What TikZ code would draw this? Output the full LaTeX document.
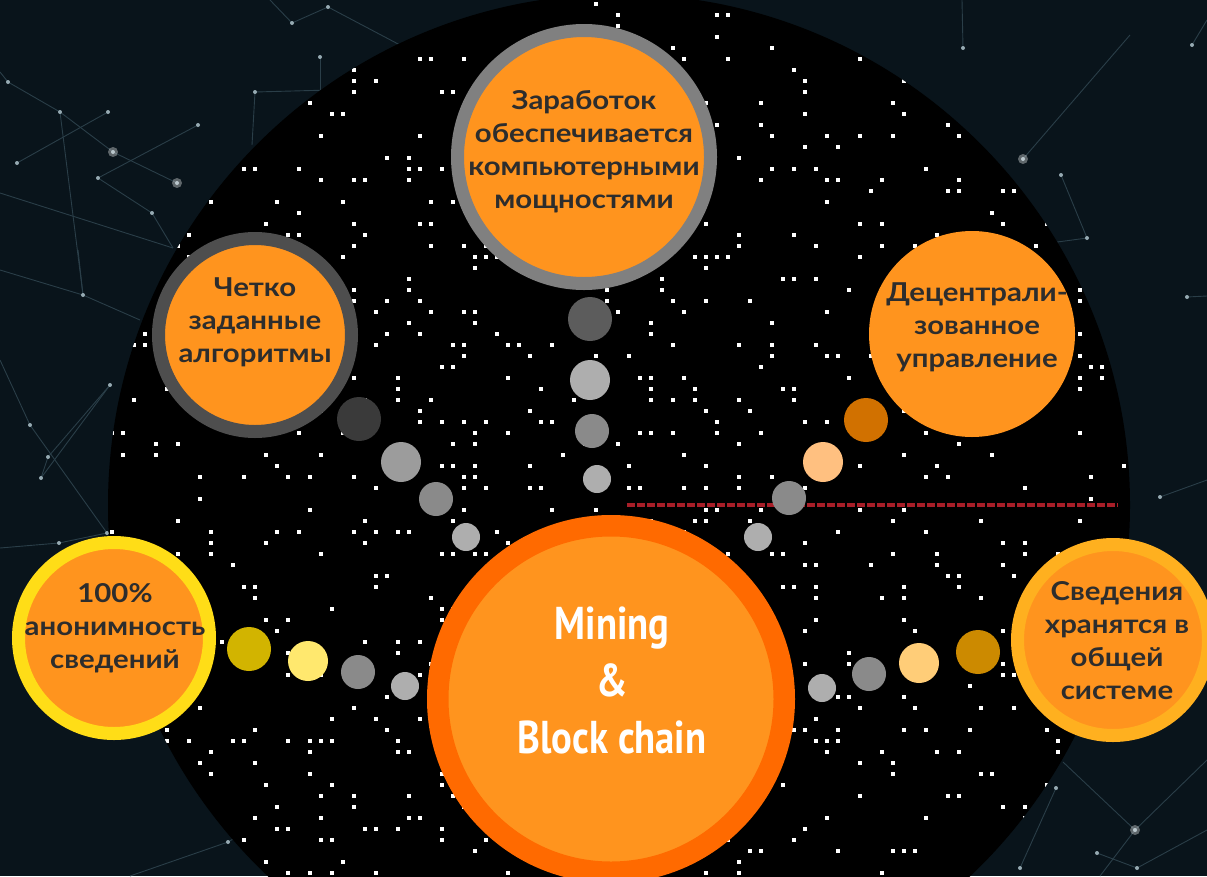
\documentclass[tikz,border=0pt]{standalone}
\usepackage{fontspec}
\setmainfont{Lato}
\newfontfamily\ballfont{Lato}[FakeStretch=1.13]
\newfontfamily\hubfont{PT Sans}[FakeStretch=0.84]

\definecolor{bgnavy}{RGB}{9,20,27}
\definecolor{netline}{RGB}{42,62,72}
\definecolor{netdot}{RGB}{150,170,178}
\definecolor{ballfill}{RGB}{255,148,30}
\definecolor{hubring}{RGB}{255,106,0}
\definecolor{ringgray}{RGB}{128,128,128}
\definecolor{ringdark}{RGB}{78,78,78}
\definecolor{ringyellow}{RGB}{255,221,23}
\definecolor{ringamber}{RGB}{255,176,31}
\definecolor{labelgray}{RGB}{45,45,45}
\definecolor{wirered}{RGB}{168,30,40}
\definecolor{beaddark}{RGB}{58,58,58}
\definecolor{beadslate}{RGB}{92,92,92}
\definecolor{beadmid}{RGB}{138,138,138}
\definecolor{beadsilver}{RGB}{156,156,156}
\definecolor{beadlight}{RGB}{174,174,174}
\definecolor{beadamber}{RGB}{209,113,0}
\definecolor{beadpeach}{RGB}{255,192,128}
\definecolor{beadolive}{RGB}{210,180,0}
\definecolor{beadlemon}{RGB}{255,232,110}
\definecolor{beadgold}{RGB}{204,138,0}
\definecolor{beadsand}{RGB}{255,205,120}

\tikzset{
  ball/.style={circle, inner sep=0pt, fill=ballfill},
  bead/.style={circle, inner sep=0pt, minimum size=#1},
  balltext/.style={text=labelgray, align=center,
    font=\ballfont\bfseries\fontsize{26}{33}\selectfont},
  hubtext/.style={text=white, align=center,
    font=\hubfont\bfseries\fontsize{46}{57}\selectfont},
  netwire/.style={netline, line width=0.9pt},
  redwire/.style={wirered, line width=3.2pt, dash pattern=on 8pt off 2pt}
}

\begin{document}
\begin{tikzpicture}[x=1pt, y=-1pt]
  \useasboundingbox (0,0) rectangle (1207,876);
  \fill[bgnavy] (0,0) rectangle (1207,876);

  %% background network
  \foreach \n/\p in {n1/{113,152}, n2/{177,183}, n3/{60,112}, n4/{108,112},
      n5/{198,125}, n6/{17,163}, n7/{98,178}, n8/{152,213}, n9/{8,82},
      n10/{292,23}, n11/{328,7}, n12/{320,57}, n13/{255,92}, n14/{83,295},
      n15/{110,385}, n16/{30,425}, n17/{48,457}, n18/{41,478}, n19/{59,543},
      n20/{107,533}, n21/{963,48}, n22/{1023,159}, n23/{1061,175},
      n24/{1087,238}, n25/{1192,45}, n26/{1187,297}, n27/{1160,497},
      n28/{1135,830}, n29/{1056,788}, n30/{1097,853}, n31/{1137,868},
      n32/{1020,868}, n33/{228,842}, n34/{252,145}}
    \coordinate (\n) at (\p);
  \foreach \n/\p in {e1/{0,72}, e2/{0,193}, e3/{173,248}, e4/{330,90},
      e5/{400,45}, e6/{78,250}, e7/{140,320}, e8/{0,360}, e9/{0,548},
      e10/{962,0}, e11/{1130,35}, e12/{1207,296}, e13/{1207,480},
      e14/{1063,762}, e15/{1207,760}, e16/{1100,876}, e17/{1207,830},
      e18/{130,876}, e19/{300,800}, e20/{1050,243}, e21/{270,0},
      e22/{320,90}, e23/{0,270}, e24/{1207,20}}
    \coordinate (\n) at (\p);
  \foreach \a/\b in {e1/n9, n9/n3, n3/n1, n1/n2, n6/n4, n7/n5, n7/n8, n8/e3,
      n3/n14, e2/e3, n13/e4, e21/n10, n10/n11, n11/e5, n12/e22, n34/n13,
      n14/e6, n14/e7, e8/n16, n16/n20, n17/n15, n18/n15, n17/n18, e9/n19,
      n19/n20, e23/n14, e10/n21, n22/e11, n23/n24, n24/e20, n26/e12,
      e13/n27, n25/e24, e14/n28, n28/e15, n28/e16, n29/n32, n30/n31,
      n31/e17, n33/e18, n33/e19}
    \draw[netwire] (\a) -- (\b);
  \foreach \n in {n1,n2,n3,n4,n5,n6,n7,n8,n9,n10,n11,n12,n13,n14,n15,n16,
      n17,n18,n19,n20,n21,n22,n23,n24,n25,n26,n27,n28,n29,n30,n31,n32,n33}
    \fill[netdot] (\n) circle [radius=2];
  \foreach \n in {n1,n2,n22,n28}
    \fill[white, opacity=0.35] (\n) circle [radius=5];

  %% black disc with white specks
  \fill[black] (619,505) circle [radius=511];
  \begin{scope}
    \clip (619,505) circle [radius=511];
    \pgfmathsetseed{4711}
    \foreach \k in {1,...,950}{
      \pgfmathsetmacro{\px}{112+11*random(0,92)}
      \pgfmathsetmacro{\py}{4+11*random(0,80)}
      \fill[white] (\px-1.8,\py-1.8) rectangle ++(3.6,3.6);
    }
  \end{scope}

  \coordinate (wire-a) at (627,505);
  \coordinate (wire-b) at (1118,505);
  \draw[redwire] (wire-a) -- (wire-b);

  %% beads
  \foreach \n/\p/\s/\c in {
      tb1/{590,319}/44/beadslate, tb2/{590,380}/40/beadlight,
      tb3/{592,431}/34/beadmid,   tb4/{597,479}/28/beadlight,
      lb1/{359,419}/44/beaddark,  lb2/{401,462}/40/beadsilver,
      lb3/{436,499}/34/beadmid,   lb4/{466,537}/28/beadlight,
      rb1/{866,420}/44/beadamber, rb2/{823,462}/40/beadpeach,
      rb3/{789,498}/34/beadmid,   rb4/{758,537}/28/beadlight,
      ab1/{249,649}/44/beadolive, ab2/{308,661}/40/beadlemon,
      ab3/{358,672}/34/beadmid,   ab4/{405,686}/28/beadlight,
      sb1/{978,652}/44/beadgold,  sb2/{919,663}/40/beadsand,
      sb3/{869,674}/34/beadmid,   sb4/{822,688}/28/beadlight}
    \node[bead=\s, fill=\c] (\n) at (\p) {};

  %% balls
  \node[ball, draw=hubring, line width=21.5pt, minimum size=346.5pt]
    (hub) at (611,699) {};
  \node[ball, draw=ringgray, line width=13pt, minimum size=253pt]
    (earn) at (584,157) {};
  \node[ball, draw=ringdark, line width=13pt, minimum size=193pt]
    (algo) at (255,335) {};
  \node[ball, minimum size=206pt] (decen) at (972,334) {};
  \node[ball, draw=ringyellow, line width=13pt, minimum size=191pt]
    (anon) at (114,638) {};
  \node[ball, draw=ringamber, line width=13pt, minimum size=191pt]
    (store) at (1113,640) {};

  %% labels
  \node[hubtext] (hub-txt) at (612,680) {Mining\\\&\\Block chain};
  \node[balltext] (earn-txt) at (584,152)
    {Заработок\\обеспечивается\\компьютерными\\мощностями};
  \node[balltext] (algo-txt) at (255,322) {Четко\\заданные\\алгоритмы};
  \node[balltext] (decen-txt) at (977,327)
    {Децентрали-\\зованное\\управление};
  \node[balltext] (anon-txt) at (115,628) {100\%\\анонимность\\сведений};
  \node[balltext] (store-txt) at (1117,641)
    {Сведения\\хранятся в\\общей\\системе};
\end{tikzpicture}
\end{document}
